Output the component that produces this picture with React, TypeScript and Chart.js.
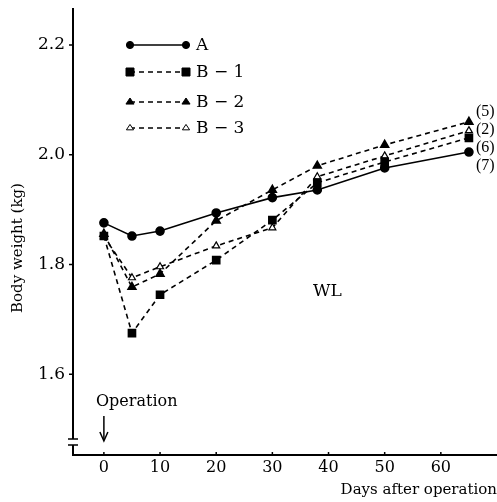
import React, { useEffect, useRef } from "react";
import { Chart, registerables } from "chart.js";

Chart.register(...registerables);

const days = [0, 5, 10, 20, 30, 38, 50, 65];
const seriesA = [1.876, 1.852, 1.861, 1.894, 1.922, 1.936, 1.976, 2.005];
const seriesB1 = [1.852, 1.675, 1.745, 1.808, 1.881, 1.949, 1.987, 2.031];
const seriesB2 = [1.856, 1.759, 1.783, 1.88, 1.936, 1.98, 2.018, 2.06];
const seriesB3 = [1.851, 1.776, 1.796, 1.834, 1.867, 1.96, 1.998, 2.044];
const seriesNames = ["A", "B − 1", "B − 2", "B − 3"];
const endCounts = ["(7)", "(6)", "(5)", "(2)"];
const yTicks = [1.6, 1.8, 2.0, 2.2];
const xTicks = [0, 10, 20, 30, 40, 50, 60];

const FONT = "'DejaVu Serif', serif";
const FONT2 = "'Liberation Serif', serif";

export default function App() {
  const ref = useRef<HTMLCanvasElement | null>(null);
  useEffect(() => {
    const canvas = ref.current;
    if (!canvas) return;
    const mk = (vals: number[]) => days.map((d, i) => ({ x: d, y: vals[i] }));

    function drawMarker(ctx: any, style: string, x: number, y: number, r: number, fill: string) {
      ctx.fillStyle = fill;
      ctx.strokeStyle = "#000";
      ctx.beginPath();
      if (style === "circle") {
        ctx.arc(x, y, r, 0, Math.PI * 2);
      } else if (style === "rect") {
        ctx.rect(x - r, y - r, 2 * r, 2 * r);
      } else {
        const h = r * 1.5;
        ctx.moveTo(x, y - h * 0.66);
        ctx.lineTo(x + r, y + h * 0.34);
        ctx.lineTo(x - r, y + h * 0.34);
        ctx.closePath();
      }
      ctx.fill();
      ctx.stroke();
    }

    const overlay = {
      id: "overlay",
      afterDraw(chart: any) {
        const ctx = chart.ctx;
        const xs = chart.scales.x;
        const ys = chart.scales.y;
        const area = chart.chartArea;
        ctx.save();
        ctx.strokeStyle = "#000";
        ctx.fillStyle = "#000";
        // y axis with break
        ctx.lineWidth = 2;
        ctx.beginPath();
        ctx.moveTo(area.left, area.top);
        ctx.lineTo(area.left, 439);
        ctx.moveTo(area.left, 445);
        ctx.lineTo(area.left, area.bottom);
        ctx.stroke();
        ctx.lineWidth = 1.5;
        ctx.beginPath();
        ctx.moveTo(area.left - 5, 439);
        ctx.lineTo(area.left + 5, 439);
        ctx.moveTo(area.left - 5, 445);
        ctx.lineTo(area.left + 5, 445);
        ctx.stroke();
        // x axis
        ctx.lineWidth = 2;
        ctx.beginPath();
        ctx.moveTo(area.left - 1, area.bottom);
        ctx.lineTo(area.right, area.bottom);
        ctx.stroke();
        ctx.lineWidth = 1.5;
        ctx.beginPath();
        xTicks.forEach((t) => {
          const px = xs.getPixelForValue(t);
          ctx.moveTo(px, area.bottom);
          ctx.lineTo(px, area.bottom - 3);
        });
        yTicks.forEach((t) => {
          const py = ys.getPixelForValue(t);
          ctx.moveTo(area.left, py);
          ctx.lineTo(area.left - 4, py);
        });
        ctx.stroke();

        // legend
        const legendY = [45, 72, 102, 128];
        chart.data.datasets.forEach((ds: any, i: number) => {
          const y = legendY[i];
          const x1 = 130;
          const x2 = 186;
          ctx.save();
          ctx.lineWidth = ds.borderWidth;
          ctx.setLineDash(ds.borderDash || []);
          ctx.beginPath();
          ctx.moveTo(x1, y);
          ctx.lineTo(x2, y);
          ctx.stroke();
          ctx.restore();
          [x1, x2].forEach((px) => {
            ctx.save();
            ctx.lineWidth = 1;
            ctx.setLineDash([]);
            drawMarker(ctx, ds.pointStyle, px, y, ds.pointRadius * (ds.pointStyle === "rect" ? 0.8 : 0.9), ds.pointBackgroundColor);
            ctx.restore();
          });
          ctx.font = `17px ${FONT}`;
          ctx.textAlign = "left";
          ctx.textBaseline = "middle";
          ctx.fillStyle = "#000";
          ctx.fillText(seriesNames[i], 196, y + 1);
        });

        // end counts
        ctx.font = `16px ${FONT2}`;
        ctx.textAlign = "left";
        ctx.textBaseline = "middle";
        const endY = [166, 148, 112, 130];
        endCounts.forEach((t, i) => ctx.fillText(t, 476, endY[i]));

        // annotations
        ctx.font = `17px ${FONT}`;
        ctx.fillText("WL", 313, 292);
        ctx.font = `16px ${FONT}`;
        ctx.fillText("Operation", 96, 402);
        const ax = xs.getPixelForValue(0);
        ctx.lineWidth = 1.5;
        ctx.beginPath();
        ctx.moveTo(ax, 416);
        ctx.lineTo(ax, 440);
        ctx.stroke();
        ctx.beginPath();
        ctx.moveTo(ax - 4, 432);
        ctx.lineTo(ax, 441);
        ctx.lineTo(ax + 4, 432);
        ctx.stroke();

        // axis titles
        ctx.font = `15px ${FONT}`;
        ctx.textAlign = "right";
        ctx.fillText("Days after operation", 497, 490);
        ctx.save();
        ctx.translate(18, 248);
        ctx.rotate(-Math.PI / 2);
        ctx.textAlign = "center";
        ctx.font = `15px ${FONT}`;
        ctx.fillText("Body weight (kg)", 0, 0);
        ctx.restore();
        ctx.restore();
      },
    };

    const zeroPad = (s: any) => {
      s.paddingTop = 0;
      s.paddingBottom = 0;
      s.paddingLeft = 0;
      s.paddingRight = 0;
    };

    const chart = new Chart(canvas, {
      type: "line",
      data: {
        datasets: [
          {
            label: "A",
            data: mk(seriesA),
            borderColor: "#000",
            borderWidth: 1.6,
            pointStyle: "circle",
            pointRadius: 4,
            pointBackgroundColor: "#000",
            pointBorderColor: "#000",
          },
          {
            label: "B-1",
            data: mk(seriesB1),
            borderColor: "#000",
            borderWidth: 1.6,
            borderDash: [5, 4],
            pointStyle: "rect",
            pointRadius: 5,
            pointBackgroundColor: "#000",
            pointBorderColor: "#000",
          },
          {
            label: "B-2",
            data: mk(seriesB2),
            borderColor: "#000",
            borderWidth: 1.6,
            borderDash: [5, 4],
            pointStyle: "triangle",
            pointRadius: 4.5,
            pointBackgroundColor: "#000",
            pointBorderColor: "#000",
          },
          {
            label: "B-3",
            data: mk(seriesB3),
            borderColor: "#000",
            borderWidth: 1.6,
            borderDash: [5, 4],
            pointStyle: "triangle",
            pointRadius: 4,
            pointBackgroundColor: "#fff",
            pointBorderColor: "#000",
            pointBorderWidth: 1.2,
          },
        ],
      },
      options: {
        animation: false,
        responsive: false,
        maintainAspectRatio: false,
        layout: { padding: { top: 8, right: 0, left: 0, bottom: 0 }, autoPadding: false },
        plugins: { legend: { display: false }, tooltip: { enabled: false } },
        scales: {
          x: {
            type: "linear",
            min: -5.5,
            max: 70,
            afterBuildTicks: (s: any) => {
              s.ticks = xTicks.map((v) => ({ value: v }));
            },
            afterFit: (s: any) => {
              s.height = 47;
              zeroPad(s);
            },
            grid: { display: false, drawTicks: false },
            border: { display: false },
            ticks: {
              color: "#000",
              font: { family: FONT, size: 16 },
              padding: 3,
              maxRotation: 0,
            },
          },
          y: {
            type: "linear",
            min: 1.453,
            max: 2.2675,
            afterBuildTicks: (s: any) => {
              s.ticks = yTicks.map((v) => ({ value: v }));
            },
            afterFit: (s: any) => {
              s.width = 73;
              zeroPad(s);
            },
            grid: { display: false, drawTicks: false },
            border: { display: false },
            ticks: {
              color: "#000",
              font: { family: FONT, size: 17 },
              padding: 8,
              callback: (v: any) => Number(v).toFixed(1),
            },
          },
        },
      },
      plugins: [overlay],
    });
    return () => chart.destroy();
  }, []);
  return (
    <div style={{ position: "fixed", left: 0, top: 0, width: 497, height: 502, background: "#fff" }}>
      <canvas ref={ref} width={497} height={502} style={{ width: 497, height: 502 }} />
    </div>
  );
}
